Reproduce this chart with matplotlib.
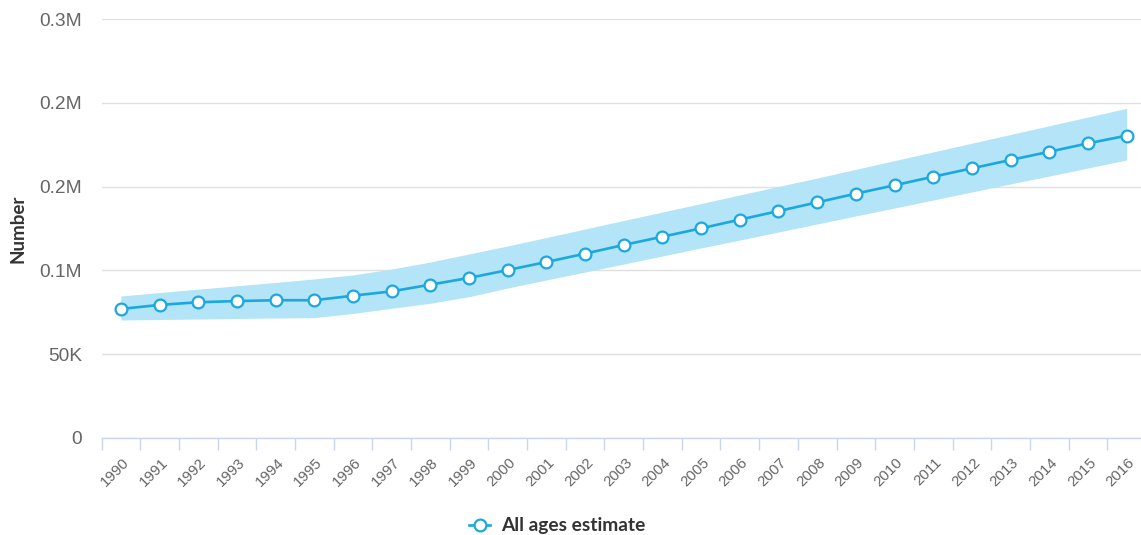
import matplotlib
matplotlib.use("Agg")
import matplotlib.pyplot as plt
from matplotlib.ticker import FixedLocator, FixedFormatter
from matplotlib.lines import Line2D
import matplotlib.transforms as mtransforms

years = [str(y) for y in range(1990, 2017)]
estimate = [77.0, 79.4, 81.0, 81.7, 82.2, 82.2, 84.9, 87.5, 91.5, 95.5,
            100.2, 105.0, 110.0, 115.2, 120.1, 125.1, 130.3, 135.4, 140.6,
            145.8, 150.8, 155.9, 160.9, 165.9, 170.8, 175.8, 180.4]
upper = [84.7, 86.8, 88.8, 90.8, 92.8, 94.9, 97.3, 100.8, 105.0, 109.8,
         114.6, 119.6, 124.7, 129.8, 134.8, 139.9, 145.0, 150.1, 155.1,
         160.3, 165.5, 170.7, 175.9, 181.1, 186.3, 191.5, 196.7]
lower = [70.4, 70.7, 71.0, 71.3, 71.6, 71.8, 74.3, 77.4, 80.4, 84.3,
         89.5, 94.3, 99.0, 103.8, 108.6, 113.4, 118.1, 122.9, 127.7,
         132.5, 137.2, 142.0, 146.8, 151.6, 156.3, 161.1, 165.9]
y_ticks = [0, 50000, 100000, 150000, 200000, 250000]
y_tick_labels = ["0", "50K", "0.1M", "0.2M", "0.2M", "0.3M"]

estimate = [v * 1000 for v in estimate]
upper = [v * 1000 for v in upper]
lower = [v * 1000 for v in lower]

W, H = 1141, 535
fig = plt.figure(figsize=(W / 100, H / 100), dpi=100)
left, right, top, bottom = 101.5, 1146, 19, 438
ax = fig.add_axes([left / W, 1 - bottom / H, (right - left) / W, (bottom - top) / H])

line_color = "#1ba8df"
band_color = "#b3e4f7"
x = list(range(len(years)))

ax.fill_between(x, lower, upper, color=band_color, linewidth=0, zorder=1)
ax.plot(x, estimate, color=line_color, linewidth=1.9, marker="o", markersize=8.5,
        markerfacecolor="white", markeredgecolor=line_color, markeredgewidth=1.6, zorder=3)

ax.set_xlim(-0.5, len(years) - 0.5)
ax.set_ylim(0, 250000)

ax.yaxis.set_major_locator(FixedLocator(y_ticks))
ax.yaxis.set_major_formatter(FixedFormatter(y_tick_labels))
ax.tick_params(axis="y", length=0, pad=14, labelsize=13.8, labelcolor="#666666")
for lab in ax.get_yticklabels():
    lab.set_fontfamily("Liberation Sans")
ax.grid(axis="y", color="#e0e0e0", linewidth=1.0, zorder=0)
ax.set_axisbelow(True)

ax.set_xticks(x)
ax.set_xticklabels(years, rotation=45, ha="right", va="top", rotation_mode="anchor",
                   fontsize=10.8, color="#666666", family="Liberation Sans")
ax.tick_params(axis="x", which="major", length=0, pad=12.5)
ax.set_xticks([i - 0.5 for i in range(len(years) + 1)], minor=True)
ax.tick_params(axis="x", which="minor", length=8.6, width=1, color="#ccd6eb")
offset = mtransforms.ScaledTranslation(1 / 100, 0, fig.dpi_scale_trans)
for lab in ax.get_xticklabels():
    lab.set_transform(lab.get_transform() + offset)

for s in ["top", "right", "left"]:
    ax.spines[s].set_visible(False)
ax.spines["bottom"].set_color("#ccd6eb")
ax.spines["bottom"].set_linewidth(1)

fig.text(18 / W, 1 - 228.5 / H, "Number", rotation=90, ha="center", va="center",
         fontsize=13.5, fontweight="bold", color="#333333", family="Lato")

handle = Line2D([0], [0], color=line_color, linewidth=1.9, marker="o", markersize=8.5,
                markerfacecolor="white", markeredgecolor=line_color, markeredgewidth=1.6)
fig.legend([handle], ["All ages estimate"], loc="center", bbox_to_anchor=(557 / W, 1 - 526 / H),
           frameon=False, handlelength=1.1, handletextpad=0.55,
           prop={"family": "Lato", "weight": "bold", "size": 13.8}, labelcolor="#333333")

fig.savefig("out.png", dpi=100)
